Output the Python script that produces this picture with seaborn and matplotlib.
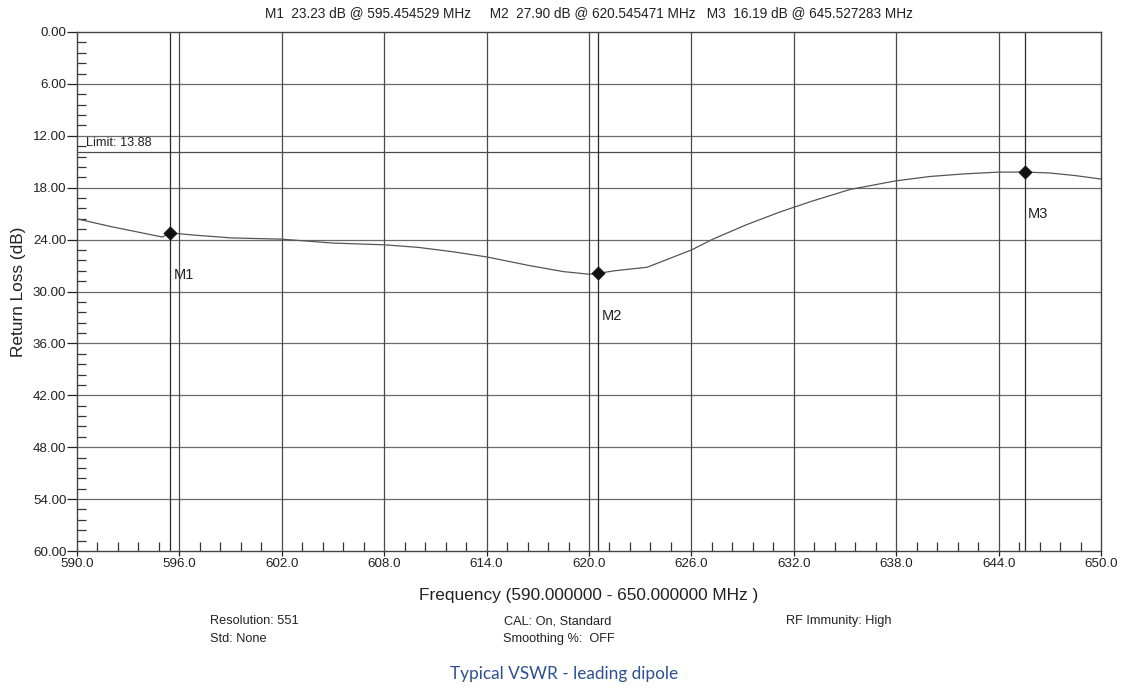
import matplotlib
matplotlib.use("Agg")
import matplotlib.pyplot as plt
import seaborn as sns
import numpy as np
import pandas as pd

# Dados (MHz / dB)
freq = [590.0, 592.0, 594.0, 595.0, 595.45, 597.0, 599.0, 602.0, 605.0, 608.0,
        610.0, 612.0, 614.0, 616.5, 618.5, 620.0, 620.55, 621.5, 623.4, 624.7,
        626.0, 627.2, 629.2, 631.2, 633.0, 635.3, 638.0, 640.0, 642.0, 644.0,
        645.53, 647.0, 648.5, 650.0]
return_loss = [21.6, 22.5, 23.3, 23.7, 23.23, 23.5, 23.8, 23.95, 24.4, 24.6,
               24.9, 25.4, 26.0, 27.0, 27.7, 28.0, 27.9, 27.6, 27.2, 26.2,
               25.2, 24.0, 22.3, 20.8, 19.6, 18.2, 17.2, 16.7, 16.4, 16.2,
               16.19, 16.3, 16.6, 17.0]

marker_names = ['M1', 'M2', 'M3']
marker_freq = [595.454529, 620.545471, 645.527283]
marker_db = [23.23, 27.90, 16.19]

limit_db = 13.88
x_ticks = [590.0, 596.0, 602.0, 608.0, 614.0, 620.0, 626.0, 632.0, 638.0, 644.0, 650.0]
y_ticks = [0.0, 6.0, 12.0, 18.0, 24.0, 30.0, 36.0, 42.0, 48.0, 54.0, 60.0]

# Estilo
sns.set_theme(style="white")
plt.rcParams['font.family'] = ['Liberation Sans', 'DejaVu Sans']

df = pd.DataFrame({'freq': freq, 'rl': return_loss})
df_m = pd.DataFrame({'name': marker_names, 'freq': marker_freq, 'rl': marker_db})

fig = plt.figure(figsize=(11.21, 6.88), dpi=100)
ax = fig.add_axes([77 / 1121, 1 - 551 / 688, 1024 / 1121, 519 / 688])

# grade
for yt in y_ticks[1:-1]:
    ax.axhline(yt, color='#6a6a6a', lw=0.9, zorder=1)
for xt in x_ticks[1:-1]:
    ax.axvline(xt, color='#4a4a4a', lw=0.9, zorder=1)
ax.axhline(limit_db, color='#4a4a4a', lw=0.9, zorder=1)
ax.text(590.5, limit_db - 0.35, f'Limit: {limit_db:.2f}', fontsize=9.2, va='bottom', ha='left', color='#222222')

# linhas dos marcadores
for f in marker_freq:
    ax.axvline(f, color='#2a2a2a', lw=0.9, zorder=1)

sns.lineplot(data=df, x='freq', y='rl', color='#555555', lw=0.9, ax=ax, zorder=3)
sns.scatterplot(data=df_m, x='freq', y='rl', marker='D', s=45, color='#111111',
                edgecolor='#111111', ax=ax, zorder=4)
for _, r in df_m.iterrows():
    ax.text(r['freq'] + 0.2, r['rl'] + 4.9, r['name'], fontsize=10.5, va='center', ha='left', color='#222222')

ax.set_xlim(590, 650)
ax.set_ylim(60, 0)
ax.set_xticks(x_ticks)
ax.set_xticklabels([f'{v:.1f}' for v in x_ticks])
ax.set_yticks(y_ticks)
ax.set_yticklabels([f'{v:.2f}' for v in y_ticks])
ax.set_xticks(np.arange(590, 650.01, 1.2), minor=True)
ax.set_yticks(np.arange(0, 60.01, 1.2), minor=True)
ax.tick_params(axis='both', which='major', labelsize=9.6, colors='#222222', width=0.9)
ax.tick_params(axis='y', which='major', direction='out', length=7.2, pad=0.5, left=True)
ax.tick_params(axis='x', which='major', direction='out', length=3.6, pad=1.5, bottom=True)
ax.tick_params(axis='both', which='minor', direction='in', length=6.8, width=0.9, color='#333333',
               left=True, bottom=True)
for s in ax.spines.values():
    s.set_color('#444444')
    s.set_linewidth(1.0)

ax.set_xlabel('Frequency (590.000000 - 650.000000 MHz )', fontsize=12.4, color='#222222', labelpad=13)
ax.set_ylabel('Return Loss (dB)', fontsize=12.4, color='#222222', labelpad=5)

fig.text(0.525, 1 - 13 / 688,
         'M1  23.23 dB @ 595.454529 MHz     M2  27.90 dB @ 620.545471 MHz   M3  16.19 dB @ 645.527283 MHz',
         fontsize=9.8, ha='center', va='center', color='#222222')

fig.text(210 / 1121, 1 - 621 / 688, 'Resolution: 551', fontsize=9.2, va='center', color='#222222')
fig.text(210 / 1121, 1 - 639 / 688, 'Std: None', fontsize=9.2, va='center', color='#222222')
fig.text(504 / 1121, 1 - 621 / 688, 'CAL: On, Standard', fontsize=9.2, va='center', color='#222222')
fig.text(503 / 1121, 1 - 639 / 688, 'Smoothing %:  OFF', fontsize=9.2, va='center', color='#222222')
fig.text(786 / 1121, 1 - 621 / 688, 'RF Immunity: High', fontsize=9.2, va='center', color='#222222')

fig.text(564 / 1121, 1 - 674 / 688, 'Typical VSWR - leading dipole', fontsize=12.4, ha='center', va='center',
         color='#2d5092', family=['Lato', 'DejaVu Sans'])

fig.savefig('out.png', dpi=100)
